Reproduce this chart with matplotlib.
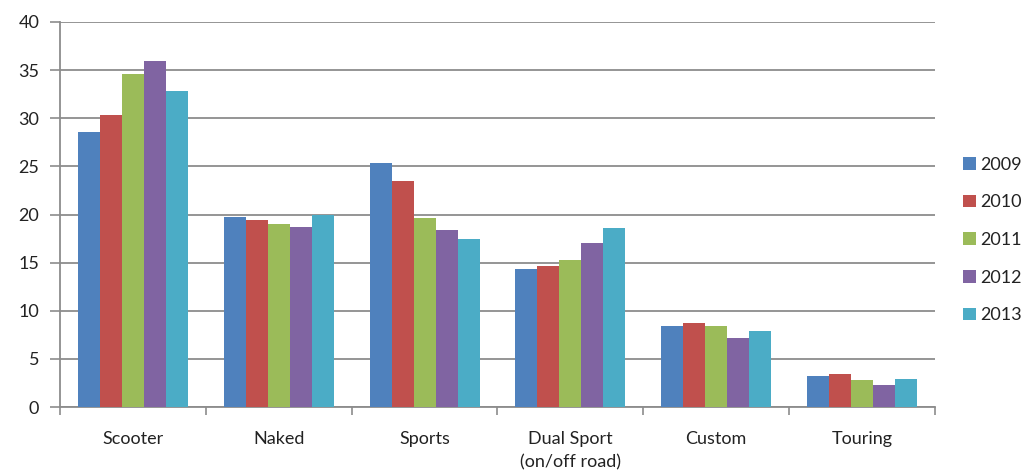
import matplotlib
matplotlib.use("Agg")
import matplotlib.pyplot as plt
import numpy as np

categories = ["Scooter", "Naked", "Sports", "Dual Sport\n(on/off road)", "Custom", "Touring"]
years = ["2009", "2010", "2011", "2012", "2013"]
values_2009 = [28.6, 19.7, 25.4, 14.3, 8.4, 3.2]
values_2010 = [30.3, 19.4, 23.5, 14.7, 8.7, 3.45]
values_2011 = [34.6, 19.0, 19.65, 15.25, 8.4, 2.85]
values_2012 = [36.0, 18.7, 18.4, 17.0, 7.2, 2.3]
values_2013 = [32.8, 20.0, 17.5, 18.6, 7.9, 2.9]
series = [values_2009, values_2010, values_2011, values_2012, values_2013]
colors = ["#4F81BD", "#C0504D", "#9BBB59", "#8064A2", "#4BACC6"]

plt.rcParams['font.family'] = ['Lato', 'DejaVu Sans']

fig = plt.figure(figsize=(10.32, 4.74), dpi=100)
ax = fig.add_axes([60/1032, 1 - 407/474, 875/1032, 385/474])

n = len(series)
bw = 0.151
x = np.arange(len(categories))
for i, (vals, c) in enumerate(zip(series, colors)):
    ax.bar(x + (i - (n - 1) / 2) * bw, vals, width=bw, color=c, label=years[i], zorder=3)

ax.set_xlim(-0.5, len(categories) - 0.5)
ax.set_ylim(0, 40)
ax.set_yticks(np.arange(0, 41, 5))
ax.yaxis.grid(True, color="#8c8c8c", linewidth=1.3, zorder=0)
ax.set_axisbelow(True)

ax.set_xticks(x)
ax.set_xticklabels(categories, fontsize=13, color="#222222", linespacing=1.55)
ax.tick_params(axis="x", length=0, pad=17)
ax.set_xticks(np.arange(-0.5, len(categories)), minor=True)
ax.tick_params(axis="x", which="minor", length=6, color="#8c8c8c", width=1.2)
ax.tick_params(axis="y", length=7, color="#8c8c8c", width=1.2, labelsize=13, labelcolor="#222222", pad=8)

for s in ["top", "right"]:
    ax.spines[s].set_visible(False)
for s in ["left", "bottom"]:
    ax.spines[s].set_color("#8c8c8c")
    ax.spines[s].set_linewidth(1.3)

leg = ax.legend(loc="center left", bbox_to_anchor=(1.022, 0.434), frameon=False,
                fontsize=13, handlelength=0.7, handleheight=0.7, handletextpad=0.25,
                labelspacing=1.2, borderpad=0)
for t in leg.get_texts():
    t.set_color("#222222")

fig.savefig("out.png", dpi=100, facecolor="white")
